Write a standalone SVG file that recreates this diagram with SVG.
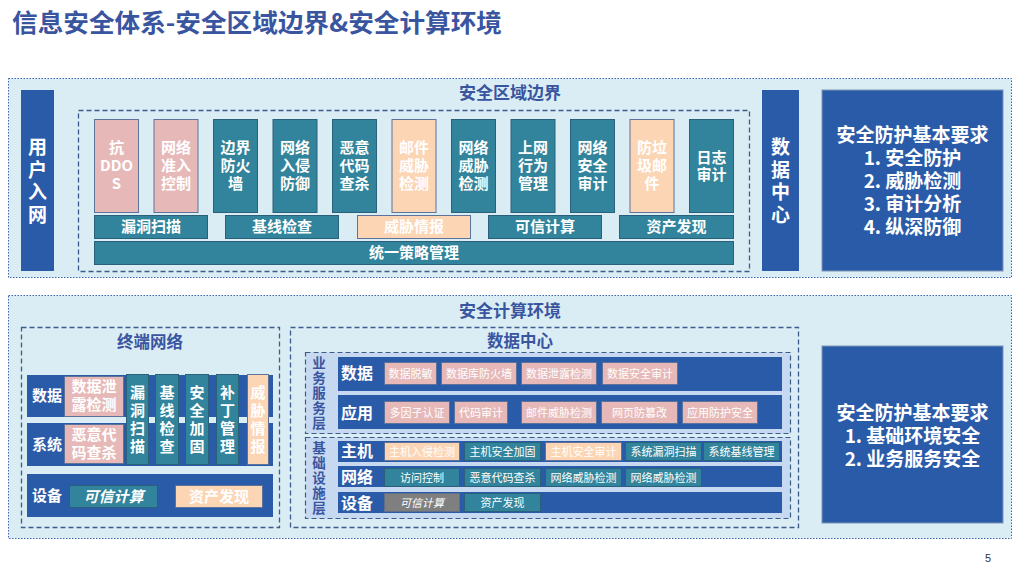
<svg xmlns="http://www.w3.org/2000/svg" width="1024" height="576" viewBox="0 0 1024 576">
<style>
text{font-family:"Noto Sans CJK SC","Noto Sans",sans-serif;font-weight:bold}
.pan{fill:#DAEDF4;stroke:#3F64B0;stroke-width:1;stroke-dasharray:1.5 1.5}
.dash{fill:none;stroke:#3D5C8C;stroke-width:1.3;stroke-dasharray:5 3}
.band{fill:#C6D9F0;stroke:#3D5C8C;stroke-width:1.2;stroke-dasharray:5 3}
.db{fill:#2A5BA9}
.tl{fill:#31849B;stroke:#2A607A;stroke-width:1}
.pk{fill:#E6B9B8;stroke:#5E7399;stroke-width:1}
.pc{fill:#FCD5B5;stroke:#5E7399;stroke-width:1}
.gy{fill:#7F7F7F;stroke:#5E6E88;stroke-width:1}
.w{fill:#FFFFFF;text-anchor:middle}
.h{fill:#3A55A0;text-anchor:middle}
.f15{font-size:15px}
.f11{font-size:11px;font-weight:normal}
.it{font-style:italic}
.v{writing-mode:vertical-rl;text-anchor:middle}
.v19{font-size:19px;letter-spacing:3.5px}
.v15{font-size:15px;letter-spacing:3px}
.v13{font-size:13.5px;letter-spacing:1.5px}
</style>
<rect width="1024" height="576" fill="#FFFFFF"/>
<text x="12" y="32" style="font-size:25px;fill:#3A55A0" textLength="490" lengthAdjust="spacingAndGlyphs">信息安全体系-安全区域边界&amp;安全计算环境</text>

<g id="boundary-panel">
<rect class="pan" x="8.5" y="78.5" width="1003" height="199"/>
<text class="h" x="510" y="99" style="font-size:17px">安全区域边界</text>
<rect class="dash" x="78.5" y="110.5" width="671" height="161"/>
</g>

<g id="user-access">
<rect class="db" x="21" y="90" width="33" height="181"/>
<text class="w v v19" x="37.5" y="182.5">用户入网</text>
</g>

<g id="boundary-columns">
<g id="c-ddos"><rect class="pk" x="94.5" y="119.5" width="44" height="93"/><text class="w f15"><tspan x="116.5" y="153">抗</tspan><tspan x="116.5" y="171">DDO</tspan><tspan x="116.5" y="189">S</tspan></text></g>
<g id="c-nac"><rect class="pk" x="154" y="119.5" width="44" height="93"/><text class="w f15"><tspan x="176" y="153">网络</tspan><tspan x="176" y="171">准入</tspan><tspan x="176" y="189">控制</tspan></text></g>
<g id="c-fw"><rect class="tl" x="213.5" y="119.5" width="44" height="93"/><text class="w f15"><tspan x="235.5" y="153">边界</tspan><tspan x="235.5" y="171">防火</tspan><tspan x="235.5" y="189">墙</tspan></text></g>
<g id="c-ips"><rect class="tl" x="273" y="119.5" width="44" height="93"/><text class="w f15"><tspan x="295" y="153">网络</tspan><tspan x="295" y="171">入侵</tspan><tspan x="295" y="189">防御</tspan></text></g>
<g id="c-av"><rect class="tl" x="332.5" y="119.5" width="44" height="93"/><text class="w f15"><tspan x="354.5" y="153">恶意</tspan><tspan x="354.5" y="171">代码</tspan><tspan x="354.5" y="189">查杀</tspan></text></g>
<g id="c-mail"><rect class="pc" x="392" y="119.5" width="44" height="93"/><text class="w f15"><tspan x="414" y="153">邮件</tspan><tspan x="414" y="171">威胁</tspan><tspan x="414" y="189">检测</tspan></text></g>
<g id="c-ntd"><rect class="tl" x="451.5" y="119.5" width="44" height="93"/><text class="w f15"><tspan x="473.5" y="153">网络</tspan><tspan x="473.5" y="171">威胁</tspan><tspan x="473.5" y="189">检测</tspan></text></g>
<g id="c-beh"><rect class="tl" x="511" y="119.5" width="44" height="93"/><text class="w f15"><tspan x="533" y="153">上网</tspan><tspan x="533" y="171">行为</tspan><tspan x="533" y="189">管理</tspan></text></g>
<g id="c-audit"><rect class="tl" x="570.5" y="119.5" width="44" height="93"/><text class="w f15"><tspan x="592.5" y="153">网络</tspan><tspan x="592.5" y="171">安全</tspan><tspan x="592.5" y="189">审计</tspan></text></g>
<g id="c-spam"><rect class="pc" x="630" y="119.5" width="44" height="93"/><text class="w f15"><tspan x="652" y="153">防垃</tspan><tspan x="652" y="171">圾邮</tspan><tspan x="652" y="189">件</tspan></text></g>
<g id="c-log"><rect class="tl" x="689.5" y="119.5" width="44" height="93"/><text class="w f15"><tspan x="711.5" y="163">日志</tspan><tspan x="711.5" y="180">审计</tspan></text></g>
</g>

<g id="boundary-row2">
<g id="r-vuln"><rect class="tl" x="94.5" y="215.5" width="113" height="23"/><text class="w f15" x="151" y="232">漏洞扫描</text></g>
<g id="r-base"><rect class="tl" x="225.5" y="215.5" width="113" height="23"/><text class="w f15" x="282" y="232">基线检查</text></g>
<g id="r-ti"><rect class="pc" x="357.5" y="215.5" width="113" height="23"/><text class="w f15" x="414" y="232">威胁情报</text></g>
<g id="r-trust"><rect class="tl" x="488.5" y="215.5" width="113" height="23"/><text class="w f15" x="545" y="232">可信计算</text></g>
<g id="r-asset"><rect class="tl" x="619.5" y="215.5" width="114" height="23"/><text class="w f15" x="676.5" y="232">资产发现</text></g>
</g>
<g id="r-policy"><rect class="tl" x="94.5" y="241.5" width="639" height="23"/><text class="w f15" x="414" y="258">统一策略管理</text></g>

<g id="data-center-top">
<rect class="db" x="762" y="90" width="37" height="181"/>
<text class="w v v19" x="780.5" y="182.5">数据中心</text>
</g>

<g id="req-top">
<rect class="db" x="822" y="90" width="181" height="181" stroke="#7F96B8" stroke-width="1"/>
<text class="w" style="font-size:19px"><tspan x="912.5" y="142">安全防护基本要求</tspan><tspan x="912.5" y="165">1. 安全防护</tspan><tspan x="912.5" y="188">2. 威胁检测</tspan><tspan x="912.5" y="211">3. 审计分析</tspan><tspan x="912.5" y="234">4. 纵深防御</tspan></text>
</g>

<g id="compute-panel">
<rect class="pan" x="8.5" y="295.5" width="1003" height="243"/>
<text class="h" x="510" y="317" style="font-size:17px">安全计算环境</text>
</g>

<g id="terminal">
<rect class="dash" x="21.5" y="327.5" width="258" height="200"/>
<text class="h" x="150" y="348" style="font-size:16.5px">终端网络</text>
<rect class="db" x="27" y="375" width="246" height="42"/>
<rect class="db" x="27" y="423" width="246" height="43"/>
<text class="w f15" x="47" y="401">数据</text>
<text class="w f15" x="47" y="450">系统</text>
<rect class="pk" x="64.5" y="376.5" width="59" height="40"/>
<text class="w f15"><tspan x="94" y="392">数据泄</tspan><tspan x="94" y="410">露检测</tspan></text>
<rect class="pk" x="64.5" y="424.5" width="59" height="39"/>
<text class="w f15"><tspan x="94" y="440">恶意代</tspan><tspan x="94" y="458">码查杀</tspan></text>
<rect class="tl" x="126.5" y="374.5" width="22" height="90"/>
<text class="w v v15" x="137.5" y="421">漏洞扫描</text>
<rect class="tl" x="155.5" y="374.5" width="23" height="90"/>
<text class="w v v15" x="167" y="421">基线检查</text>
<rect class="tl" x="185.5" y="374.5" width="23" height="90"/>
<text class="w v v15" x="197" y="421">安全加固</text>
<rect class="tl" x="216.5" y="374.5" width="22" height="90"/>
<text class="w v v15" x="227.5" y="421">补丁管理</text>
<rect class="pc" x="247.5" y="374.5" width="21" height="90"/>
<text class="w v v15" x="258" y="421">威胁情报</text>
<rect class="db" x="27" y="474" width="246" height="43"/>
<text class="w f15" x="47" y="501">设备</text>
<rect class="tl" x="69.5" y="485.5" width="88" height="22"/>
<text class="w f15 it" x="113.5" y="502">可信计算</text>
<rect class="pc" x="175.5" y="485.5" width="87" height="22"/>
<text class="w f15" x="219" y="502">资产发现</text>
</g>

<g id="datacenter">
<rect class="dash" x="290.5" y="327.5" width="508" height="200"/>
<text class="h" x="520" y="347" style="font-size:16.5px">数据中心</text>
<rect class="band" x="305.5" y="352.5" width="485" height="81"/>
<rect class="band" x="305.5" y="437.5" width="485" height="81"/>
<text class="h v v13" x="319" y="393.5">业务服务层</text>
<text class="h v v13" x="319" y="479">基础设施层</text>

<rect class="db" x="338" y="357" width="444" height="34"/>
<text class="w" x="357" y="379" style="font-size:16px">数据</text>
<rect class="pk" x="384.5" y="362.5" width="52" height="22"/><text class="w f11" x="410.5" y="377.5">数据脱敏</text>
<rect class="pk" x="441.5" y="362.5" width="75" height="22"/><text class="w f11" x="479" y="377.5">数据库防火墙</text>
<rect class="pk" x="521.5" y="362.5" width="75" height="22"/><text class="w f11" x="559" y="377.5">数据泄露检测</text>
<rect class="pk" x="602.5" y="362.5" width="75" height="22"/><text class="w f11" x="640" y="377.5">数据安全审计</text>

<rect class="db" x="338" y="395" width="444" height="34"/>
<text class="w" x="357" y="419" style="font-size:16px">应用</text>
<rect class="pk" x="384.5" y="401.5" width="65" height="22"/><text class="w f11" x="417" y="416.5">多因子认证</text>
<rect class="pk" x="454.5" y="401.5" width="53" height="22"/><text class="w f11" x="481" y="416.5">代码审计</text>
<rect class="pk" x="521.5" y="401.5" width="75" height="22"/><text class="w f11" x="559" y="416.5">邮件威胁检测</text>
<rect class="pk" x="601.5" y="401.5" width="76" height="22"/><text class="w f11" x="639.5" y="416.5">网页防篡改</text>
<rect class="pk" x="682.5" y="401.5" width="75" height="22"/><text class="w f11" x="720" y="416.5">应用防护安全</text>

<rect class="db" x="338" y="441" width="444" height="21"/>
<text class="w" x="357" y="457" style="font-size:16px">主机</text>
<rect class="pc" x="384.5" y="442.5" width="75" height="18"/><text class="w f11" x="422" y="455.5">主机入侵检测</text>
<rect class="tl" x="464.5" y="442.5" width="76" height="18"/><text class="w f11" x="502.5" y="455.5">主机安全加固</text>
<rect class="pc" x="545.5" y="442.5" width="76" height="18"/><text class="w f11" x="583.5" y="455.5">主机安全审计</text>
<rect class="tl" x="625.5" y="442.5" width="76" height="18"/><text class="w f11" x="663.5" y="455.5">系统漏洞扫描</text>
<rect class="tl" x="703.5" y="442.5" width="76" height="18"/><text class="w f11" x="741.5" y="455.5">系统基线管理</text>

<rect class="db" x="338" y="466" width="444" height="21"/>
<text class="w" x="357" y="483" style="font-size:16px">网络</text>
<rect class="tl" x="384.5" y="468.5" width="75" height="18"/><text class="w f11" x="422" y="481.5">访问控制</text>
<rect class="tl" x="464.5" y="468.5" width="76" height="18"/><text class="w f11" x="502.5" y="481.5">恶意代码查杀</text>
<rect class="tl" x="545.5" y="468.5" width="76" height="18"/><text class="w f11" x="583.5" y="481.5">网络威胁检测</text>
<rect class="tl" x="625.5" y="468.5" width="76" height="18"/><text class="w f11" x="663.5" y="481.5">网络威胁检测</text>

<rect class="db" x="338" y="492" width="444" height="21"/>
<text class="w" x="357" y="509" style="font-size:16px">设备</text>
<rect class="gy" x="384.5" y="493.5" width="75" height="18"/><text class="w f11 it" x="422" y="506.5">可信计算</text>
<rect class="tl" x="464.5" y="493.5" width="76" height="18"/><text class="w f11" x="502.5" y="506.5">资产发现</text>
</g>

<g id="req-bottom">
<rect class="db" x="822" y="346" width="181" height="177" stroke="#7F96B8" stroke-width="1"/>
<text class="w" style="font-size:19px"><tspan x="912.5" y="420">安全防护基本要求</tspan><tspan x="912.5" y="443">1. 基础环境安全</tspan><tspan x="912.5" y="466">2. 业务服务安全</tspan></text>
</g>

<text x="988" y="562" style="font-family:'Liberation Sans',sans-serif;font-weight:normal;font-size:11px;fill:#333333;text-anchor:middle">5</text>
<g id="connectors"/>
</svg>
